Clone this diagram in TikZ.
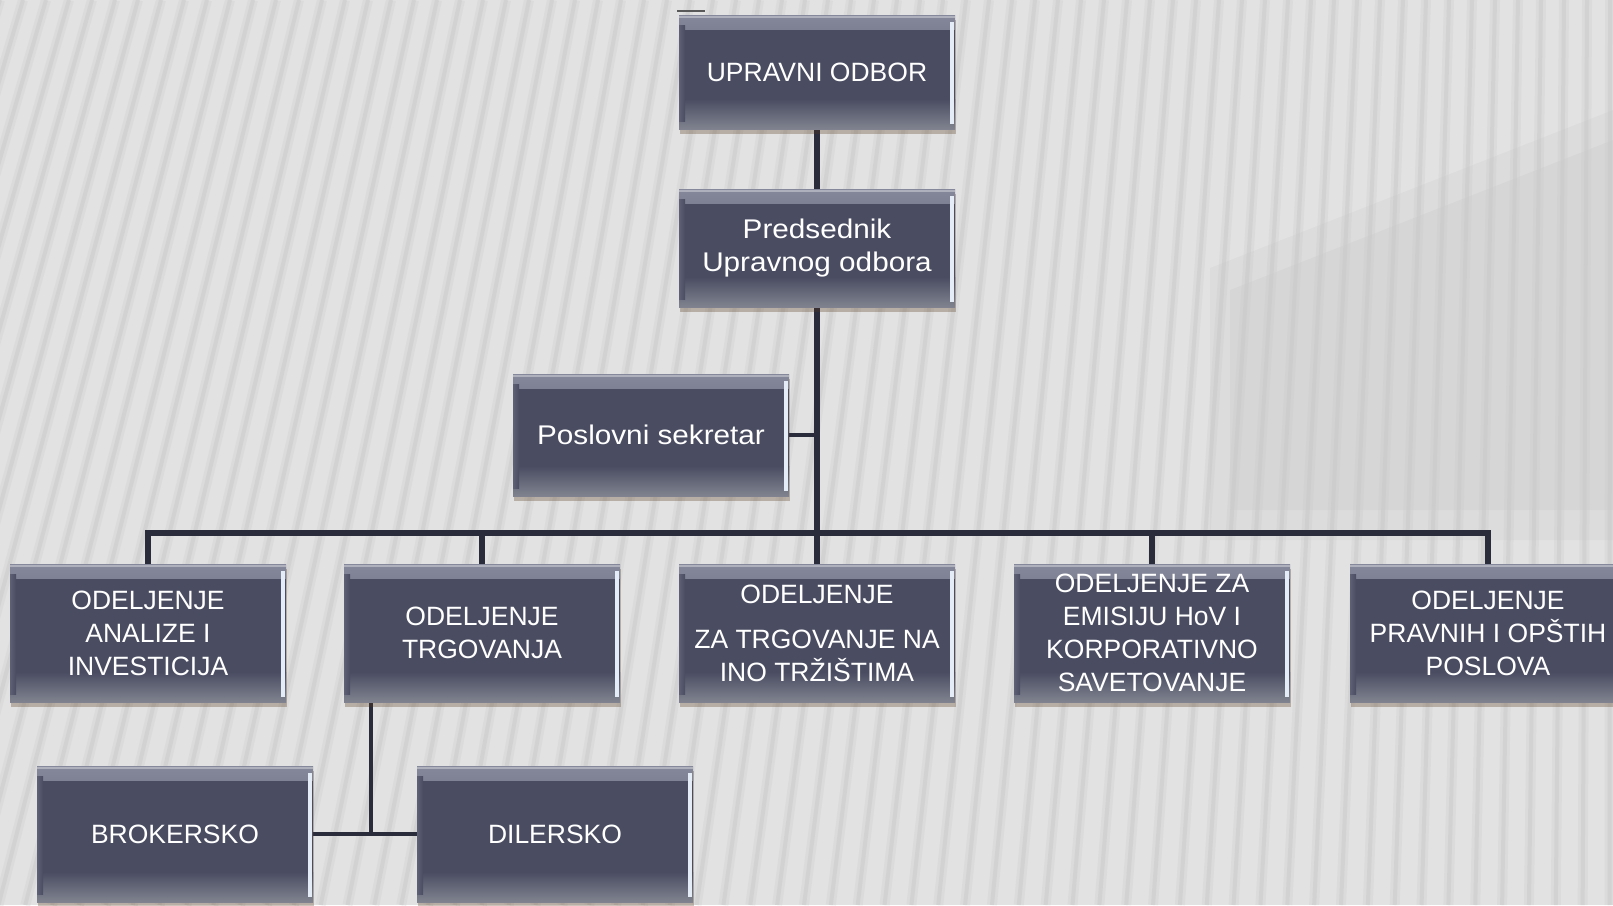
\documentclass[tikz,border=0pt]{standalone}
\usepackage{fontspec}
\setmainfont{Liberation Sans}
\usetikzlibrary{shadows}
\definecolor{bgc}{HTML}{E2E2E2}
\definecolor{stripec}{HTML}{C8C8C8}
\definecolor{boxmid}{HTML}{4A4D62}
\definecolor{boxtop}{HTML}{85889A}
\definecolor{boxbot}{HTML}{80838F}
\definecolor{boxhi}{HTML}{E4ECF8}
\definecolor{boxleft}{HTML}{5E6175}
\definecolor{linec}{HTML}{2A2C3B}
\pgfdeclarelayer{bglayer}
\pgfdeclarelayer{connlayer}
\pgfsetlayers{bglayer,connlayer,main}
\tikzset{
  orgbox/.style={minimum width=276pt, minimum height=#1, inner sep=0pt,
    fill=boxmid, text=white, align=center,
    font=\fontsize{26.5}{33}\selectfont,
    drop shadow={shadow xshift=1pt, shadow yshift=-5pt, fill=brown!45!black, opacity=.3},
    path picture={
      \shade[top color=boxtop, bottom color=boxmid]
        (path picture bounding box.north west) rectangle ([yshift=-14pt]path picture bounding box.north east);
      \fill[white, opacity=.35]
        ([yshift=-1pt]path picture bounding box.north west) rectangle ([yshift=-3pt]path picture bounding box.north east);
      \shade[top color=boxmid, bottom color=boxbot]
        ([yshift=30pt]path picture bounding box.south west) rectangle (path picture bounding box.south east);
      \shade[left color=boxleft, right color=boxmid]
        ([yshift=-10pt]path picture bounding box.north west) rectangle ([xshift=6pt,yshift=8pt]path picture bounding box.south west);
      \fill[boxhi]
        ([xshift=-5pt,yshift=-7pt]path picture bounding box.north east) rectangle ([xshift=-1.5pt,yshift=5pt]path picture bounding box.south east);
    }},
  orgbox/.default=138pt,
  wide/.style={font=\fontsize{27}{33}\selectfont\addfontfeature{FakeStretch=1.1}},
  conn/.style={draw=linec, line width=6pt},
  thinconn/.style={draw=linec, line width=4.5pt},
}
\begin{document}
\begin{tikzpicture}[x=1pt,y=-1pt]
\useasboundingbox (0,0) rectangle (1613,905);
\begin{pgfonlayer}{bglayer}
  \fill[bgc] (0,0) rectangle (1613,905);
  \begin{scope}
    \clip (0,0) rectangle (1613,905);
    \fill[black, opacity=.025] (1210,268) -- (1613,110) -- (1613,540) -- (1210,540) -- cycle;
    \fill[black, opacity=.025] (1230,290) -- (1613,140) -- (1613,510) -- (1230,510) -- cycle;
    \foreach \t in {0,23,...,1640} {
      \pgfmathsetmacro{\b}{\t-270*max(0,1-\t/1613)}
      \draw[stripec, line width=10pt, opacity=.25] (\t,0) -- (\b,905);
      \draw[stripec, line width=4pt, opacity=.45] (\t,0) -- (\b,905);
    }
  \end{scope}
  \draw[gray!70!black, line width=1.5pt] (677,11) -- (705,11);
\end{pgfonlayer}

\node[orgbox=114pt] (uo) at (817,72) {UPRAVNI ODBOR};
\node[orgbox=118pt, wide] (pred) at (817,248) {Predsednik\\Upravnog odbora};
\node[orgbox=122pt, wide] (sek) at (651,435) {Poslovni sekretar};

\node[orgbox] (o1) at (148,633) {ODELJENJE\\ANALIZE I\\INVESTICIJA};
\node[orgbox] (o2) at (482,633) {ODELJENJE\\TRGOVANJA};
\node[orgbox] (o3) at (817,633) {ODELJENJE\\[12pt]ZA TRGOVANJE NA\\INO TRŽIŠTIMA};
\node[orgbox] (o4) at (1152,633) {ODELJENJE ZA\\EMISIJU HoV I\\KORPORATIVNO\\SAVETOVANJE};
\node[orgbox] (o5) at (1488,633) {ODELJENJE\\PRAVNIH I OPŠTIH\\POSLOVA};

\node[orgbox=136pt] (brok) at (175,834) {BROKERSKO};
\node[orgbox=136pt] (dil) at (555,834) {DILERSKO};

\coordinate (bus) at (817,533);
\coordinate (tj) at (371,835);

\begin{pgfonlayer}{connlayer}
  \draw[conn] (uo.south) -- (pred.north);
  \draw[conn] (pred.south) -- (bus);
  \draw[thinconn] (sek.east) -- (sek.east -| pred.south);
  \draw[conn] (o1.north) |- (bus);
  \draw[conn] (o2.north) |- (bus);
  \draw[conn] (o3.north) -- (bus);
  \draw[conn] (o4.north) |- (bus);
  \draw[conn] (o5.north) |- (bus);
  \draw[thinconn] (o2.south -| tj) -- (tj);
  \draw[thinconn] (brok.east) -- (dil.west);
\end{pgfonlayer}
\end{tikzpicture}
\end{document}
